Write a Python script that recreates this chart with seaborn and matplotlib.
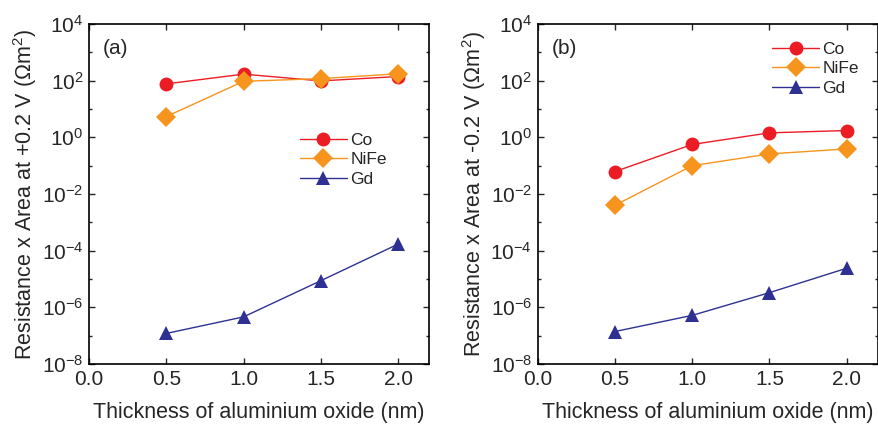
import numpy as np
import pandas as pd
import matplotlib
matplotlib.use("Agg")
import matplotlib.pyplot as plt
import seaborn as sns
from matplotlib.ticker import FixedLocator, FuncFormatter, NullFormatter

sns.set_theme(style="ticks")
plt.rcParams["font.family"] = ["Liberation Sans", "DejaVu Sans"]
plt.rcParams["mathtext.fontset"] = "custom"
plt.rcParams["mathtext.rm"] = "Liberation Sans"
plt.rcParams["mathtext.it"] = "Liberation Sans:italic"

thickness = [0.5, 1.0, 1.5, 2.0]
materials = ["Co", "NiFe", "Gd"]

# Resistance x area at +0.2 V (Ohm m^2)
co_pos = [77, 170, 98, 140]
nife_pos = [5.4, 95, 118, 175]
gd_pos = [1.2e-7, 4.6e-7, 8.7e-6, 1.7e-4]

# Resistance x area at -0.2 V (Ohm m^2)
co_neg = [0.062, 0.56, 1.44, 1.74]
nife_neg = [0.004, 0.10, 0.26, 0.39]
gd_neg = [1.4e-7, 5.2e-7, 3.3e-6, 2.4e-5]

panel_labels = ["(a)", "(b)"]
y_labels = ["Resistance x Area at +0.2 V ($\\Omega$m$^2$)",
            "Resistance x Area at -0.2 V ($\\Omega$m$^2$)"]
x_label = "Thickness of aluminium oxide (nm)"

colors = {"Co": "#ec1c24", "NiFe": "#f7941d", "Gd": "#2e3192"}
markers = {"Co": "o", "NiFe": "D", "Gd": "^"}


def frame(co, nife, gd):
    rows = []
    for name, vals in zip(materials, [co, nife, gd]):
        for t, v in zip(thickness, vals):
            rows.append({"t": t, "ra": v, "material": name})
    return pd.DataFrame(rows)


fig = plt.figure(figsize=(8.79, 4.24), dpi=100)
ax_a = fig.add_axes([0.1013, 0.1415, 0.3867, 0.8019])
ax_b = fig.add_axes([0.6117, 0.1415, 0.3867, 0.8019])

datasets = [frame(co_pos, nife_pos, gd_pos), frame(co_neg, nife_neg, gd_neg)]
legend_pos = [(0.62, 0.68), (0.69, 0.948)]

for ax, df, plab, ylab, lpos in zip([ax_a, ax_b], datasets, panel_labels, y_labels, legend_pos):
    sns.lineplot(data=df, x="t", y="ra", hue="material", style="material",
                 hue_order=materials, style_order=materials,
                 palette=colors, markers=markers, dashes=False,
                 markersize=10, markeredgewidth=0, linewidth=1.0, ax=ax)
    ax.set_yscale("log")
    ax.set_xlim(0.0, 2.2)
    ax.set_ylim(1e-8, 1e4)
    ax.set_xticks([0.0, 0.5, 1.0, 1.5, 2.0])
    ax.xaxis.set_major_formatter(FuncFormatter(lambda v, p: f"{v:.1f}"))
    ax.yaxis.set_major_locator(FixedLocator([10.0 ** e for e in range(-8, 5, 2)]))
    ax.yaxis.set_minor_locator(FixedLocator([10.0 ** e for e in range(-7, 4, 2)]))
    ax.yaxis.set_major_formatter(FuncFormatter(
        lambda v, p: "10$^{%d}$" % int(round(np.log10(v)))))
    ax.yaxis.set_minor_formatter(NullFormatter())
    ax.tick_params(axis="both", which="both", direction="in",
                   top=True, right=True, labelsize=15, width=1.0)
    ax.tick_params(axis="both", which="major", length=4, pad=4)
    ax.tick_params(axis="both", which="minor", length=2.5)
    ax.tick_params(axis="x", which="minor", bottom=False, top=False)
    for s in ax.spines.values():
        s.set_linewidth(1.2)
        s.set_color("black")
    ax.set_xlabel(x_label, fontsize=15.5, labelpad=10)
    ax.set_ylabel(ylab, fontsize=15.5, labelpad=2)
    ax.text(0.04, 0.955, plab, transform=ax.transAxes, fontsize=15,
            va="top", ha="left")
    leg = ax.legend(loc="upper left", bbox_to_anchor=lpos, frameon=False,
                    fontsize=12.5, handlelength=2.7, handletextpad=0.2,
                    labelspacing=0.25, borderpad=0.0, borderaxespad=0.0)
    for h in leg.legend_handles:
        h.set_markersize(10)

fig.savefig("out.png", dpi=100)
